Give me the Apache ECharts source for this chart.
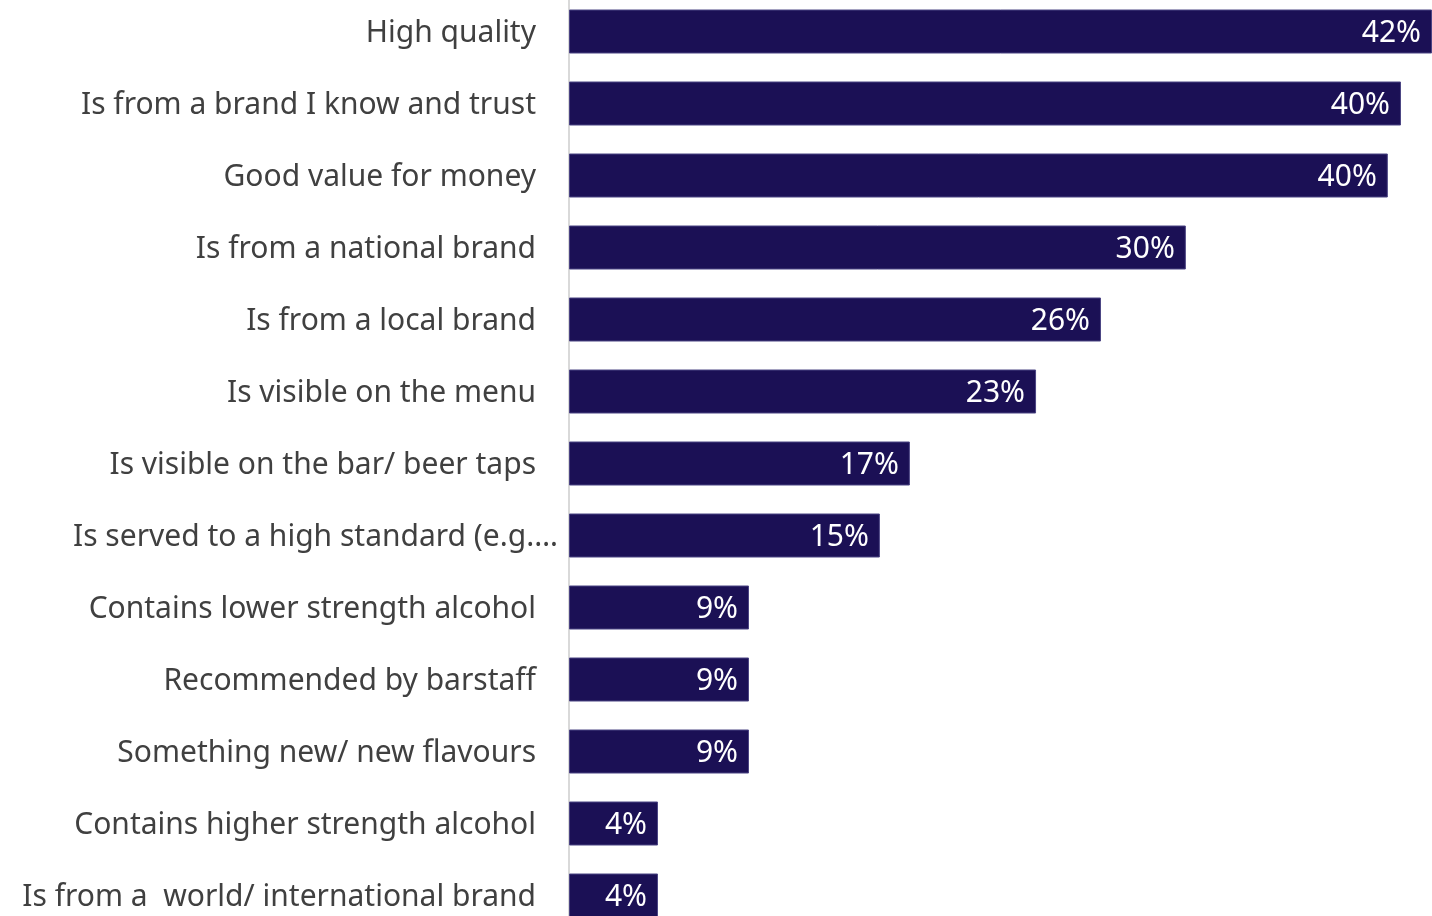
<!DOCTYPE html>
<html>
<head>
<meta charset="utf-8">
<script src="https://cdn.jsdelivr.net/npm/echarts@6/dist/echarts.min.js"></script>
<style>
  html, body { margin: 0; padding: 0; background: #ffffff; }
  #chart { width: 1432px; height: 916px; }
</style>
</head>
<body>
<div id="chart"></div>
<script>
// Reasons for choosing a drink, share of respondents (%)
const categories = [
  'High quality',
  'Is from a brand I know and trust',
  'Good value for money',
  'Is from a national brand',
  'Is from a local brand',
  'Is visible on the menu',
  'Is visible on the bar/ beer taps',
  'Is served to a high standard (e.g.…',
  'Contains lower strength alcohol',
  'Recommended by barstaff',
  'Something new/ new flavours',
  'Contains higher strength alcohol',
  'Is from a  world/ international brand'
];
const values = [42.0, 40.49, 39.85, 30.02, 25.89, 22.73, 16.59, 15.13, 8.76, 8.76, 8.76, 4.33, 4.33];
// Labels that run over their slot and sit closer to the axis
const truncatedLabels = ['Is served to a high standard (e.g.…'];

const FONT = '"Noto Sans", sans-serif';
const chart = echarts.init(document.getElementById('chart'));

chart.setOption({
  animation: false,
  backgroundColor: '#ffffff',
  grid: {
    left: 569, right: 0, top: -4.5, height: 936,
    containLabel: false,
    outerBoundsMode: 'none'
  },
  xAxis: {
    type: 'value',
    min: 0,
    max: 42,
    show: false
  },
  yAxis: {
    type: 'category',
    data: categories,
    inverse: true,
    axisTick: { show: false },
    axisLine: { show: true, lineStyle: { color: '#d9d9d9', width: 2 } },
    splitLine: { show: false },
    axisLabel: {
      margin: 11,
      fontFamily: FONT,
      fontSize: 30,
      color: '#404040',
      formatter: function (v) {
        return truncatedLabels.indexOf(v) >= 0 ? '{t|' + v + '}' : '{n|' + v + '}';
      },
      rich: {
        n: { fontFamily: FONT, fontSize: 30, color: '#404040', padding: [4, 22, 0, 0] },
        t: { fontFamily: FONT, fontSize: 30, color: '#404040', padding: [4, 0, 0, 0] }
      }
    }
  },
  series: [{
    type: 'bar',
    data: values,
    barWidth: 44,
    clip: true,
    itemStyle: { color: '#1b1055', borderColor: '#4b4483', borderWidth: 1 },
    label: {
      show: true,
      position: 'insideRight',
      distance: 11,
      offset: [0, 2],
      color: '#ffffff',
      fontFamily: FONT,
      fontSize: 30,
      formatter: function (p) { return Math.round(p.value) + '%'; }
    }
  }]
});
</script>
</body>
</html>
